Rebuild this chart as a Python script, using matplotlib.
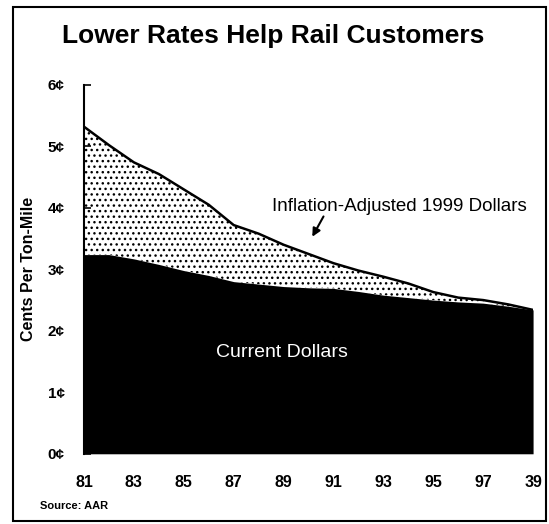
import numpy as np
import matplotlib.pyplot as plt
from matplotlib.patches import Rectangle

plt.rcParams['font.family'] = ['Liberation Sans', 'DejaVu Sans']

# ======== data ========
years = [81, 82, 83, 84, 85, 86, 87, 88, 89, 90,
         91, 92, 93, 94, 95, 96, 97, 98, 99]
inflation_adj = [5.32, 5.02, 4.74, 4.55, 4.30, 4.05, 3.72, 3.58, 3.40, 3.25,
                 3.10, 2.98, 2.88, 2.77, 2.63, 2.54, 2.50, 2.43, 2.34]
current = [3.24, 3.24, 3.17, 3.08, 2.98, 2.90, 2.80, 2.76, 2.72, 2.70,
           2.69, 2.64, 2.58, 2.54, 2.50, 2.47, 2.45, 2.40, 2.34]
x_ticks = [81, 83, 85, 87, 89, 91, 93, 95, 97, 99]
x_labels = ['81', '83', '85', '87', '89', '91', '93', '95', '97', '39']
y_ticks = [0, 1, 2, 3, 4, 5, 6]
y_labels = ['0¢', '1¢', '2¢', '3¢', '4¢', '5¢', '6¢']

# -------- plot --------
fig = plt.figure(figsize=(5.49, 5.24), dpi=100)
fig.patches.append(Rectangle((0.023, 0.006), 0.972, 0.981, transform=fig.transFigure,
                             fill=False, edgecolor='black', linewidth=1.5))

ax = fig.add_axes([0.153, 0.134, 0.818, 0.704])

# stippled band between the two series
ax.fill_between(years, current, inflation_adj, facecolor='white',
                edgecolor='black', hatch='...', linewidth=0)
ax.plot(years, inflation_adj, color='black', linewidth=1.8)
ax.fill_between(years, 0, current, color='black', linewidth=0)

ax.set_xlim(81, 99)
ax.set_ylim(0, 6)
ax.set_xticks(x_ticks)
ax.set_xticklabels(x_labels, fontsize=11.5, fontweight='bold')
ax.set_yticks(y_ticks)
ax.set_yticklabels(y_labels, fontsize=11, fontweight='bold')
ax.tick_params(axis='x', length=0, pad=15)
ax.tick_params(axis='y', direction='in', length=5, width=1.2, pad=14)

for side in ['top', 'right', 'bottom']:
    ax.spines[side].set_visible(False)
ax.spines['left'].set_linewidth(1.5)

ax.set_ylabel('Cents Per Ton-Mile', fontsize=11.5, fontweight='bold', labelpad=8)

ax.text(88.95, 1.64, 'Current Dollars', color='white', fontsize=14,
        ha='center', va='center')
ax.text(93.65, 4.02, 'Inflation-Adjusted 1999 Dollars', fontsize=13.5,
        ha='center', va='center')
ax.annotate('', xy=(90.15, 3.53), xytext=(90.6, 3.86),
            arrowprops=dict(arrowstyle='-|>', color='black', lw=1.5,
                            shrinkA=0, shrinkB=0, mutation_scale=12))

fig.text(0.498, 0.931, 'Lower Rates Help Rail Customers', fontsize=19,
         fontweight='bold', ha='center', va='center')
fig.text(0.072, 0.034, 'Source: AAR', fontsize=8, fontweight='bold',
         ha='left', va='center')

fig.savefig('out.png', dpi=100)
plt.close(fig)
